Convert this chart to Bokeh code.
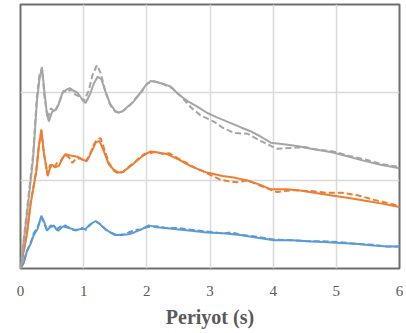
from bokeh.plotting import figure
from bokeh.models import Range1d, FixedTicker
from bokeh.embed import file_html
from bokeh.resources import INLINE

# Grey series (solid / dashed)
grey_x = [0, 0.1, 0.2, 0.26, 0.30, 0.34, 0.38, 0.42, 0.45, 0.50, 0.55, 0.60, 0.66, 0.72, 0.78, 0.84, 0.90, 0.96, 1.03, 1.10, 1.16, 1.22, 1.28, 1.35, 1.42, 1.50, 1.55, 1.62, 1.70, 1.77, 1.85, 1.92, 1.98, 2.06, 2.15, 2.25, 2.37, 2.5, 2.65, 2.8, 2.95, 3.1, 3.3, 3.5, 3.64, 3.8, 3.96, 4.2, 4.4, 4.6, 4.93, 5.2, 5.46, 5.7, 6.0]
grey_y = [0, 0.6, 1.25, 1.9, 2.15, 2.29, 2.0, 1.75, 1.67, 1.78, 1.80, 1.86, 1.99, 2.03, 2.05, 2.02, 2.0, 1.94, 1.88, 1.98, 2.10, 2.18, 2.15, 2.0, 1.87, 1.79, 1.77, 1.79, 1.84, 1.88, 1.95, 2.02, 2.08, 2.13, 2.12, 2.10, 2.07, 1.98, 1.90, 1.84, 1.77, 1.72, 1.66, 1.60, 1.56, 1.50, 1.43, 1.41, 1.39, 1.36, 1.32, 1.27, 1.22, 1.18, 1.14]
grey_dx = [0, 0.1, 0.2, 0.26, 0.30, 0.34, 0.38, 0.43, 0.48, 0.55, 0.62, 0.68, 0.74, 0.80, 0.86, 0.92, 1.0, 1.08, 1.14, 1.21, 1.27, 1.34, 1.42, 1.50, 1.58, 1.66, 1.75, 1.84, 1.92, 2.0, 2.1, 2.25, 2.4, 2.55, 2.7, 2.85, 3.06, 3.2, 3.38, 3.6, 3.8, 4.06, 4.3, 4.5, 4.7, 4.95, 5.2, 5.45, 5.7, 6.0]
grey_dy = [0, 0.65, 1.3, 1.95, 2.2, 2.27, 1.95, 1.70, 1.82, 1.78, 1.90, 2.02, 2.0, 2.04, 1.98, 1.96, 1.90, 2.02, 2.20, 2.31, 2.22, 2.02, 1.86, 1.78, 1.77, 1.81, 1.87, 1.95, 2.01, 2.10, 2.13, 2.10, 2.05, 1.95, 1.83, 1.74, 1.67, 1.60, 1.54, 1.53, 1.45, 1.36, 1.37, 1.38, 1.35, 1.33, 1.28, 1.24, 1.19, 1.15]

# Orange series
orange_x = [0, 0.1, 0.16, 0.21, 0.25, 0.29, 0.33, 0.37, 0.43, 0.47, 0.50, 0.55, 0.61, 0.66, 0.71, 0.76, 0.82, 0.90, 0.98, 1.05, 1.12, 1.19, 1.25, 1.32, 1.40, 1.48, 1.55, 1.62, 1.70, 1.77, 1.85, 1.92, 1.98, 2.06, 2.15, 2.32, 2.5, 2.7, 2.95, 3.2, 3.4, 3.59, 3.8, 3.96, 4.2, 4.4, 4.65, 4.93, 5.2, 5.46, 5.7, 6.0]
orange_y = [0, 0.38, 0.73, 0.94, 1.1, 1.38, 1.58, 1.32, 1.05, 1.15, 1.18, 1.15, 1.17, 1.25, 1.30, 1.29, 1.28, 1.27, 1.24, 1.22, 1.32, 1.43, 1.45, 1.33, 1.18, 1.12, 1.09, 1.10, 1.14, 1.18, 1.23, 1.27, 1.30, 1.33, 1.32, 1.30, 1.24, 1.16, 1.09, 1.05, 1.03, 1.0, 0.95, 0.90, 0.90, 0.89, 0.86, 0.83, 0.80, 0.77, 0.74, 0.70]
orange_dx = [0, 0.1, 0.16, 0.21, 0.25, 0.29, 0.33, 0.37, 0.43, 0.47, 0.52, 0.58, 0.64, 0.70, 0.76, 0.82, 0.88, 0.95, 1.03, 1.10, 1.17, 1.22, 1.27, 1.33, 1.40, 1.48, 1.55, 1.63, 1.72, 1.80, 1.88, 1.96, 2.05, 2.15, 2.25, 2.35, 2.5, 2.7, 2.9, 3.16, 3.3, 3.43, 3.6, 3.8, 4.06, 4.3, 4.6, 4.85, 5.09, 5.35, 5.6, 5.83, 6.0]
orange_dy = [0, 0.4, 0.75, 0.95, 1.12, 1.4, 1.56, 1.30, 1.07, 1.18, 1.14, 1.20, 1.22, 1.29, 1.27, 1.20, 1.25, 1.25, 1.21, 1.30, 1.42, 1.47, 1.48, 1.35, 1.20, 1.11, 1.08, 1.10, 1.16, 1.20, 1.26, 1.30, 1.31, 1.33, 1.30, 1.31, 1.25, 1.17, 1.10, 1.01, 0.99, 0.98, 1.0, 0.94, 0.87, 0.89, 0.88, 0.86, 0.86, 0.83, 0.78, 0.74, 0.71]

# Blue series
blue_x = [0, 0.05, 0.1, 0.16, 0.21, 0.27, 0.33, 0.38, 0.42, 0.47, 0.53, 0.57, 0.60, 0.66, 0.71, 0.76, 0.82, 0.87, 0.95, 1.03, 1.10, 1.19, 1.25, 1.32, 1.40, 1.50, 1.60, 1.71, 1.80, 1.93, 2.03, 2.15, 2.3, 2.43, 2.7, 2.95, 3.2, 3.48, 3.75, 4.01, 4.3, 4.54, 4.8, 5.06, 5.3, 5.59, 5.8, 6.0]
blue_y = [0, 0.06, 0.19, 0.28, 0.38, 0.45, 0.60, 0.52, 0.43, 0.47, 0.49, 0.44, 0.43, 0.47, 0.49, 0.46, 0.45, 0.43, 0.45, 0.45, 0.50, 0.54, 0.51, 0.46, 0.42, 0.38, 0.38, 0.39, 0.41, 0.45, 0.49, 0.47, 0.46, 0.45, 0.43, 0.41, 0.40, 0.38, 0.35, 0.32, 0.32, 0.31, 0.30, 0.29, 0.28, 0.26, 0.25, 0.25]
blue_dx = [0, 0.05, 0.1, 0.16, 0.21, 0.27, 0.33, 0.38, 0.42, 0.48, 0.53, 0.58, 0.64, 0.70, 0.76, 0.83, 0.90, 0.97, 1.04, 1.12, 1.20, 1.27, 1.35, 1.45, 1.55, 1.65, 1.75, 1.82, 1.90, 2.0, 2.15, 2.3, 2.5, 2.7, 2.95, 3.2, 3.35, 3.5, 3.75, 4.0, 4.3, 4.6, 4.8, 5.06, 5.3, 5.59, 5.8, 6.0]
blue_dy = [0, 0.07, 0.2, 0.29, 0.4, 0.47, 0.58, 0.50, 0.44, 0.49, 0.47, 0.45, 0.48, 0.47, 0.47, 0.44, 0.44, 0.46, 0.44, 0.51, 0.53, 0.50, 0.44, 0.40, 0.38, 0.39, 0.42, 0.44, 0.44, 0.47, 0.48, 0.46, 0.46, 0.44, 0.42, 0.40, 0.41, 0.38, 0.36, 0.33, 0.32, 0.31, 0.31, 0.30, 0.28, 0.27, 0.25, 0.25]

x_ticks = [0, 1, 2, 3, 4, 5, 6]
y_grid = [0, 1, 2, 3]
x_label = "Periyot (s)"

serif = "'Liberation Serif', 'Times New Roman', serif"

p = figure(width=403, height=330, output_backend="svg", toolbar_location=None,
           x_range=Range1d(0, 6), y_range=Range1d(0, 3),
           min_border_left=20, min_border_right=4, min_border_top=4, min_border_bottom=60)

p.outline_line_color = "#6e6e6e"
p.outline_line_width = 2
p.background_fill_color = "white"
p.border_fill_color = "white"

p.yaxis.visible = False
p.xaxis.ticker = FixedTicker(ticks=x_ticks)
p.xaxis.axis_line_color = None
p.xaxis.major_tick_line_color = None
p.xaxis.minor_tick_line_color = None
p.xaxis.major_tick_out = 0
p.xaxis.major_label_standoff = 17
p.xaxis.major_label_text_font = serif
p.xaxis.major_label_text_font_size = "15px"
p.xaxis.major_label_text_color = "#595959"
p.xaxis.axis_label = x_label
p.xaxis.axis_label_text_font = serif
p.xaxis.axis_label_text_font_style = "bold"
p.xaxis.axis_label_text_font_size = "20px"
p.xaxis.axis_label_text_color = "#595959"
p.xaxis.axis_label_standoff = 7

p.xgrid.ticker = FixedTicker(ticks=x_ticks)
p.ygrid.ticker = FixedTicker(ticks=y_grid)
p.xgrid.grid_line_color = "#d9d9d9"
p.ygrid.grid_line_color = "#d9d9d9"
p.xgrid.grid_line_width = 1.5
p.ygrid.grid_line_width = 1.5

blue = "#5B9BD5"
orange = "#ED7D31"
grey = "#A5A5A5"

p.line(blue_dx, blue_dy, line_color=blue, line_width=2, line_dash="6 3")
p.line(blue_x, blue_y, line_color=blue, line_width=2)
p.line(orange_dx, orange_dy, line_color=orange, line_width=2, line_dash="6 3")
p.line(orange_x, orange_y, line_color=orange, line_width=2)
p.line(grey_dx, grey_dy, line_color=grey, line_width=2, line_dash="6 3")
p.line(grey_x, grey_y, line_color=grey, line_width=2)

open("out.html", "w").write(file_html(p, INLINE))
